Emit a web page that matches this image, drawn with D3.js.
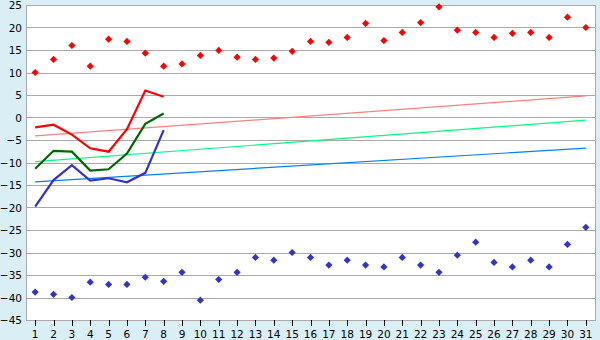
<!DOCTYPE html>
<html>
<head>
<meta charset="utf-8">
<script src="https://cdn.jsdelivr.net/npm/d3@7"></script>
<style>
  body { margin: 0; background: #d9eef5; }
  svg { display: block; font-family: "DejaVu Sans", Verdana, sans-serif; }
</style>
</head>
<body>
<div id="chart"></div>
<script>
// days of month
const days = d3.range(1, 32);
const yTicks = d3.range(-45, 26, 5);

// daily maxima / minima (points)
const highs = [10.0, 12.9, 16.0, 11.4, 17.4, 16.9, 14.3, 11.4, 11.9, 13.8,
               14.9, 13.4, 12.9, 13.2, 14.7, 16.9, 16.7, 17.8, 20.9, 17.1,
               18.9, 21.1, 24.6, 19.4, 18.9, 17.8, 18.7, 18.9, 17.8, 22.3, 20.0];
const lows = [-38.8, -39.3, -40.0, -36.6, -37.1, -37.1, -35.5, -36.4, -34.4, -40.6,
              -36.0, -34.4, -31.1, -31.7, -30.0, -31.1, -32.8, -31.7, -32.8, -33.2,
              -31.1, -32.8, -34.4, -30.6, -27.7, -32.2, -33.2, -31.7, -33.2, -28.2, -24.4];

// current month lines (days 1-8)
const curMax = [-2.2, -1.6, -3.8, -6.85, -7.6, -2.6, 6.0, 4.6];
const curMean = [-11.4, -7.4, -7.6, -11.8, -11.5, -8.0, -1.4, 0.9];
const curMin = [-19.8, -13.9, -10.6, -14.0, -13.5, -14.4, -12.3, -2.8];

// normal lines: value on day 1 and day 31
const normMax = [-4.1, 4.8];
const normMean = [-9.8, -0.6];
const normMin = [-14.3, -6.8];

const width = 600, height = 340;
const mLeft = 26, mRight = 595, mTop = 5, mBottom = 320;

const svg = d3.select("#chart").append("svg")
    .attr("width", width)
    .attr("height", height);

svg.append("rect")
    .attr("width", width).attr("height", height)
    .attr("fill", "#d9eef5");

const x = d3.scaleBand().domain(days).range([mLeft, mRight]);
const cx = d => x(d) + x.bandwidth() / 2;
const y = d3.scaleLinear().domain([-45, 25]).range([mBottom, mTop]);

svg.append("rect")
    .attr("x", mLeft).attr("y", mTop)
    .attr("width", mRight - mLeft).attr("height", mBottom - mTop)
    .attr("fill", "#fff");

// grid
svg.append("g")
    .selectAll("line")
    .data(yTicks)
    .join("line")
    .attr("x1", mLeft).attr("x2", mRight)
    .attr("y1", d => Math.round(y(d)) + 0.5)
    .attr("y2", d => Math.round(y(d)) + 0.5)
    .attr("stroke", "#aaaaaa");

// frame
svg.append("line")
    .attr("x1", mLeft + 0.5).attr("x2", mLeft + 0.5)
    .attr("y1", mTop).attr("y2", mBottom + 1)
    .attr("stroke", "#aaaaaa");
svg.append("line")
    .attr("x1", mRight + 0.5).attr("x2", mRight + 0.5)
    .attr("y1", mTop).attr("y2", mBottom + 1)
    .attr("stroke", "#aaaaaa");

// y labels
svg.append("g")
    .selectAll("text")
    .data(yTicks)
    .join("text")
    .attr("x", 22)
    .attr("y", d => y(d) + 4)
    .attr("text-anchor", "end")
    .attr("font-size", 10.5)
    .attr("fill", "#000")
    .text(d => d < 0 ? "\u2212" + Math.abs(d) : d);

// x ticks + labels
const xg = svg.append("g");
xg.selectAll("line")
    .data(days)
    .join("line")
    .attr("x1", d => Math.round(cx(d)) + 0.5)
    .attr("x2", d => Math.round(cx(d)) + 0.5)
    .attr("y1", mBottom).attr("y2", mBottom + 6)
    .attr("stroke", "#000");
xg.selectAll("text")
    .data(days)
    .join("text")
    .attr("x", d => cx(d))
    .attr("y", 338)
    .attr("text-anchor", "middle")
    .attr("font-size", 10.5)
    .attr("fill", "#000")
    .text(d => d);

// normal (trend) lines
const trend = [[normMax, "#ff8080"], [normMean, "#00ff80"], [normMin, "#0080ff"]];
trend.forEach(([v, c]) => {
    svg.append("line")
        .attr("x1", cx(days[0])).attr("y1", y(v[0]))
        .attr("x2", cx(days[days.length - 1])).attr("y2", y(v[1]))
        .attr("stroke", c)
        .attr("stroke-width", 1.2);
});

// current lines
const line = d3.line()
    .x((d, i) => cx(days[i]))
    .y(d => y(d));
[[curMax, "#ff0000"], [curMean, "#006600"], [curMin, "#3333cc"]].forEach(([v, c]) => {
    svg.append("path")
        .attr("d", line(v))
        .attr("fill", "none")
        .attr("stroke", c)
        .attr("stroke-width", 2.2);
});

// extreme points
const diamond = d3.symbol().type(d3.symbolSquare).size(26);
[[highs, "#ff0000"], [lows, "#3333cc"]].forEach(([v, c]) => {
    svg.append("g")
        .selectAll("path")
        .data(v)
        .join("path")
        .attr("d", diamond)
        .attr("transform", (d, i) => `translate(${cx(days[i])},${y(d)}) rotate(45)`)
        .attr("fill", c);
});
</script>
</body>
</html>
